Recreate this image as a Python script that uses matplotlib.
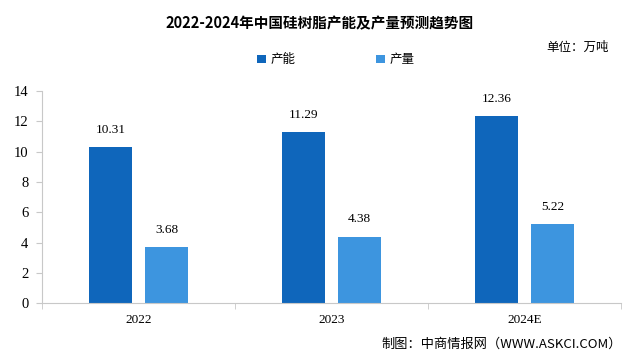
import matplotlib.pyplot as plt
import numpy as np

plt.rcParams['font.family'] = ['Noto Sans CJK SC', 'DejaVu Sans']

# data
years = ['2022', '2023', '2024E']
capacity = [10.31, 11.29, 12.36]
output = [3.68, 4.38, 5.22]

c_dark = '#0f66bb'
c_light = '#3d95df'

fig = plt.figure(figsize=(6.4, 3.63), dpi=100)
ax = fig.add_axes([0.066, 0.165, 0.904, 0.584])

x = np.arange(len(years))
w = 0.225
off = 0.145
b1 = ax.bar(x - off, capacity, w, color=c_dark, label='产能')
b2 = ax.bar(x + off, output, w, color=c_light, label='产量')

num_font = ['Liberation Serif', 'DejaVu Serif']
for bars, vals in ((b1, capacity), (b2, output)):
    for rect, v in zip(bars, vals):
        ax.text(rect.get_x() + rect.get_width() / 2, v + 0.75, f'{v:.2f}',
                ha='center', va='bottom', fontsize=9.5, family=num_font)

ax.set_xlim(-0.5, 2.5)
ax.set_ylim(0, 14)
ax.set_yticks(range(0, 15, 2))
ax.set_xticks(x)
ax.set_xticklabels(years, family=num_font, fontsize=9.5)
ax.set_xticks(np.arange(-0.5, 3, 1), minor=True)
for lab in ax.get_yticklabels():
    lab.set_family(num_font)
    lab.set_fontsize(10.5)
ax.tick_params(axis='x', which='major', length=0, pad=8)
ax.tick_params(axis='x', which='minor', length=4, color='#c8c8c8')
ax.tick_params(axis='y', length=4, color='#c8c8c8', pad=6)
for s in ['top', 'right']:
    ax.spines[s].set_visible(False)
for s in ['left', 'bottom']:
    ax.spines[s].set_color('#c8c8c8')
    ax.spines[s].set_linewidth(0.8)

fig.text(0.5, 0.935, '2022-2024年中国硅树脂产能及产量预测趋势图',
         ha='center', va='center', fontsize=10.5, fontweight='bold')
fig.text(0.952, 0.87, '单位：万吨', ha='right', va='center', fontsize=9)
fig.legend(handles=[b1, b2], loc='center', bbox_to_anchor=(0.525, 0.835),
           ncol=2, frameon=False, fontsize=9, handlelength=0.7,
           handleheight=0.7, columnspacing=6.4, handletextpad=0.4)
fig.text(0.972, 0.052, '制图：中商情报网（WWW.ASKCI.COM）', ha='right',
         va='center', fontsize=9.5)

fig.savefig('out.png', dpi=100)
